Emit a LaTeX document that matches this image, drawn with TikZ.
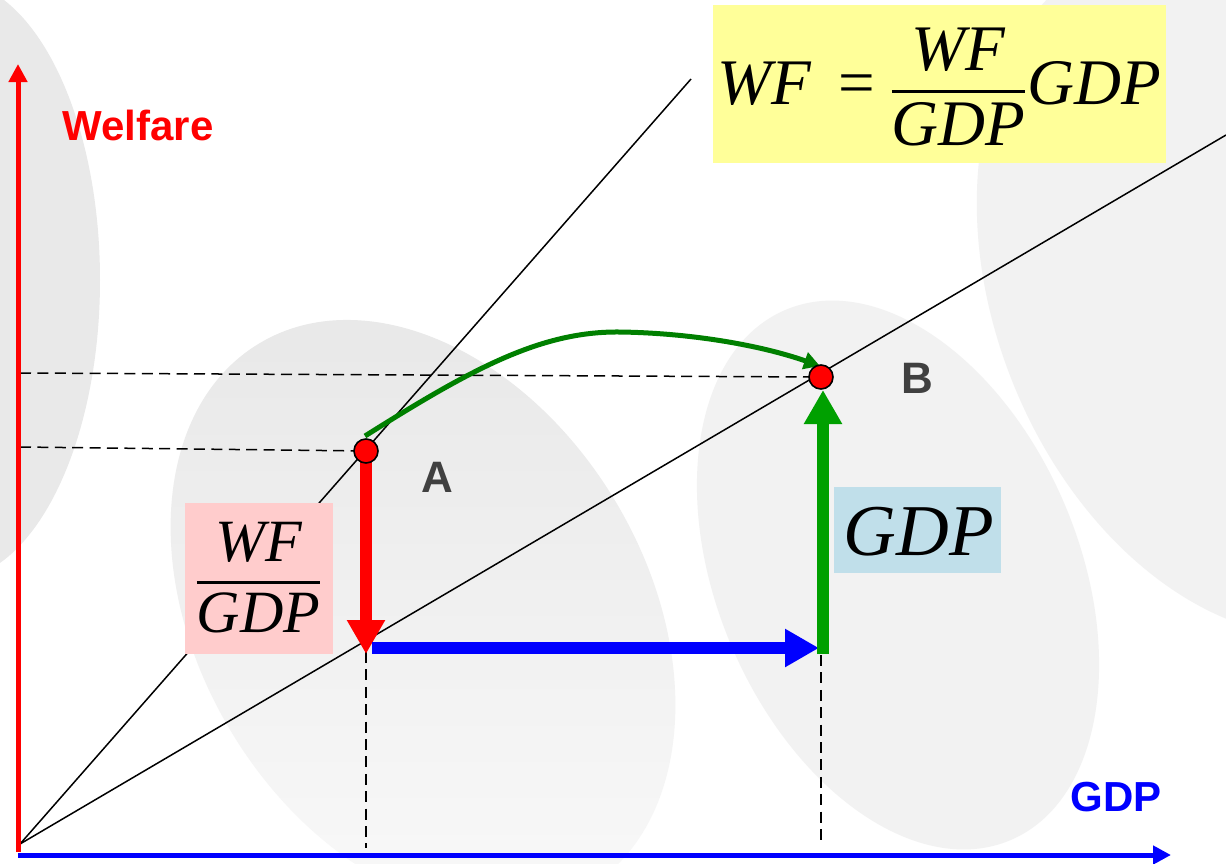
\documentclass[tikz,border=0pt]{standalone}
\usepackage{fontspec}
\setmainfont{Liberation Serif}
\newfontfamily\arialf{Liberation Sans}
\usetikzlibrary{arrows.meta}
\definecolor{bgell}{HTML}{F2F2F2}
\definecolor{bgelltop}{HTML}{E9E9E9}
\definecolor{bgellbot}{HTML}{F8F8F8}
\definecolor{yellowbox}{HTML}{FFFF99}
\definecolor{pinkbox}{HTML}{FFCCCC}
\definecolor{bluebox}{HTML}{C0DFEA}
\definecolor{darkgreen}{HTML}{008000}
\definecolor{brightgreen}{HTML}{00A000}
\definecolor{labgray}{HTML}{404040}
\tikzset{
  thinline/.style={black, line width=0.75pt},
  dashline/.style={black, line width=0.75pt, dash pattern=on 5.5pt off 3.2pt},
  axisline/.style={line width=2.5pt, -{Triangle[width=9pt,length=9pt]}},
  bigarrow/.style={line width=6pt, -{Triangle[width=18pt,length=17pt]}},
  dot/.style={circle, fill=red, draw=black, line width=0.8pt, minimum size=12pt, inner sep=0pt},
  ptlabel/.style={font=\arialf\bfseries\fontsize{22}{26}\selectfont, text=labgray},
  axlabel/.style={font=\arialf\bfseries\fontsize{21}{25}\selectfont},
}
\newcommand{\wfrac}[2]{{\displaystyle{\hbox{\itshape #1}\above1.5pt\hbox{\itshape #2}}}}
\begin{document}
\begin{tikzpicture}[x=0.5pt,y=-0.5pt]
\useasboundingbox (0,0) rectangle (1226,863);
\fill[white] (0,0) rectangle (1226,863);
% background ellipses
\begin{scope}
\clip (0,0) rectangle (1226,863);
\fill[bgelltop] (-50,280) ellipse [x radius=150, y radius=300];
\fill[bgell, rotate around={22:(1245,290)}] (1245,290) ellipse [x radius=250, y radius=360];
\fill[bgell, rotate around={23:(898,575)}] (898,575) ellipse [x radius=181, y radius=288];
\shade[top color=bgelltop, bottom color=bgellbot, rotate around={31:(423,616)}] (423,616) ellipse [x radius=224, y radius=318];
\end{scope}
% coordinates
\coordinate (O) at (20,844);
\coordinate (L1) at (691,79);
\coordinate (L2) at (1226,135);
\coordinate (Apt) at (366,451);
\coordinate (Bpt) at (821,377);
% rays
\draw[thinline] (O) -- (L1);
\draw[thinline] (O) -- (L2);
% dashed guides
\coordinate (yA) at (20,447);
\coordinate (yB) at (20,373);
\coordinate (xA) at (366,848);
\coordinate (xB) at (821,846);
\coordinate (xAt) at (366,652);
\coordinate (xBt) at (821,655);
\draw[dashline] (yA) -- (Apt);
\draw[dashline] (yB) -- (Bpt);
\draw[dashline] (xAt) -- (xA);
\draw[dashline] (xBt) -- (xB);
% axes
\coordinate (yaxb) at (18,852);
\coordinate (yaxt) at (18,64);
\coordinate (xaxl) at (18,855);
\coordinate (xaxr) at (1171,855);
\draw[axisline, red] (yaxb) -- (yaxt);
\draw[axisline, blue] (xaxl) -- (xaxr);
\node[axlabel, text=red] (wel) at (138,125) {Welfare};
\node[axlabel, text=blue] (gdpl) at (1116,797) {GDP};
% boxes
\fill[yellowbox] (713,5) rectangle (1166,163);
\node[inner sep=0pt, anchor=base west, font=\fontsize{32.5}{38}\selectfont] (yf) at (717,104)
  {$\hbox{\itshape WF}\mskip10mu\hbox{=}\mskip5mu\wfrac{WF}{GDP}\hbox{\itshape GDP}$};
\fill[pinkbox] (185,503) rectangle (333,654);
\node[inner sep=0pt, anchor=base, font=\fontsize{30}{36}\selectfont] (pf) at (258.5,595) {$\wfrac{WF}{GDP}$};
\fill[bluebox] (834,487) rectangle (1001,573);
\node[inner sep=0pt, anchor=base, font=\fontsize{36.5}{42}\selectfont\itshape] (bf) at (919,555) {GDP};
% big arrows
\coordinate (redend) at (366,654);
\coordinate (bluestart) at (372,648);
\coordinate (blueend) at (819,648);
\coordinate (greenstart) at (823,654);
\coordinate (greenend) at (823,390);
\draw[bigarrow, red] (Apt) -- (redend);
\draw[bigarrow, blue] (bluestart) -- (blueend);
\draw[bigarrow, brightgreen] (greenstart) -- (greenend);
% curved arrow
\coordinate (cs) at (365,436);
\coordinate (cm) at (620,332);
\coordinate (ce) at (820,366);
\draw[darkgreen, line width=2.5pt, -{Triangle[width=8.5pt,length=8pt]}] (cs) .. controls (470,370) and (540,331) .. (cm) .. controls (690,333) and (760,345) .. (ce);
% points
\node[dot] (A) at (Apt) {};
\node[dot] (B) at (Bpt) {};
\node[ptlabel] (la) at (437,477) {A};
\node[ptlabel] (lb) at (917,378) {B};
\end{tikzpicture}
\end{document}
